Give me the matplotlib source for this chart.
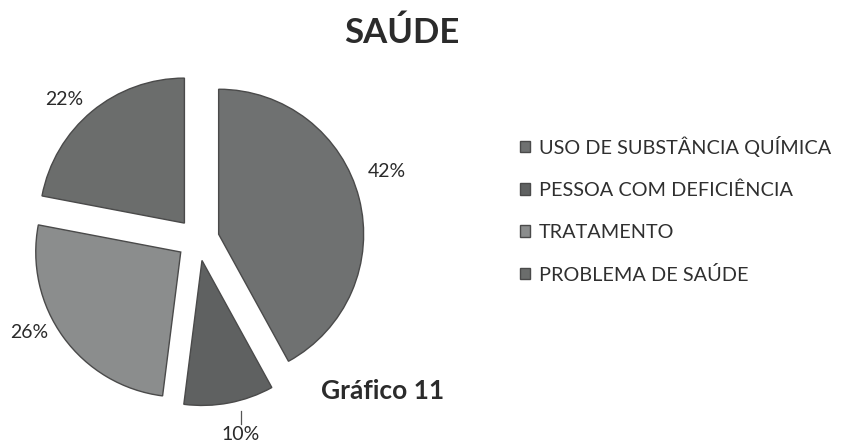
import matplotlib
matplotlib.use("Agg")
import matplotlib.pyplot as plt

categorias = ["USO DE SUBSTÂNCIA QUÍMICA", "PESSOA COM DEFICIÊNCIA",
              "TRATAMENTO", "PROBLEMA DE SAÚDE"]
valores = [42, 10, 26, 22]
cores = ["#6f7171", "#5f6161", "#8b8d8d", "#6b6d6c"]

# posição dos rótulos (unidades do raio, a partir do centro da pizza)
pos_rotulos = [(1.30, 0.47), (0.295, -1.345), (-1.165, -0.64), (-0.92, 0.965)]

plt.rcParams['font.family'] = ['Lato', 'DejaVu Sans']

fig = plt.figure(figsize=(8.42, 4.48), dpi=100)
ax = fig.add_axes([0.0113, 0.0446, 0.4477, 0.8415])

wedges, texts, autotexts = ax.pie(
    valores, colors=cores, startangle=90, counterclock=False,
    explode=[0.147] * len(valores), autopct="%1.0f%%", pctdistance=1.2,
    wedgeprops=dict(edgecolor="#4a4a4a", linewidth=1.0),
    textprops=dict(fontsize=14, color="#2a2a2a"))
for t, (px, py) in zip(autotexts, pos_rotulos):
    t.set_position((px, py))

# linha guia do rótulo de 10%
lx, ly = pos_rotulos[1]
ax.plot([lx, lx], [ly + 0.075, ly + 0.16], color="#555555", lw=0.9)

ax.set_xlim(-1.3, 1.3)
ax.set_ylim(-1.3, 1.3)
ax.set_aspect("equal")

fig.text(0.477, 0.926, "SAÚDE", fontsize=25, fontweight="bold",
         color="#2b2b2b", ha="center", va="center")
fig.text(0.4543, 0.127, "Gráfico 11", fontsize=19, fontweight="bold",
         color="#2b2b2b", ha="center", va="center")

leg = fig.legend(wedges, categorias, loc="upper left",
                 bbox_to_anchor=(0.618, 0.697), frameon=False,
                 fontsize=14.3, handlelength=0.5, handleheight=0.5,
                 handletextpad=0.45, labelspacing=1.25,
                 borderpad=0, borderaxespad=0)
for t in leg.get_texts():
    t.set_color("#2f2f2f")

fig.savefig("out.png", dpi=100, facecolor="white")
